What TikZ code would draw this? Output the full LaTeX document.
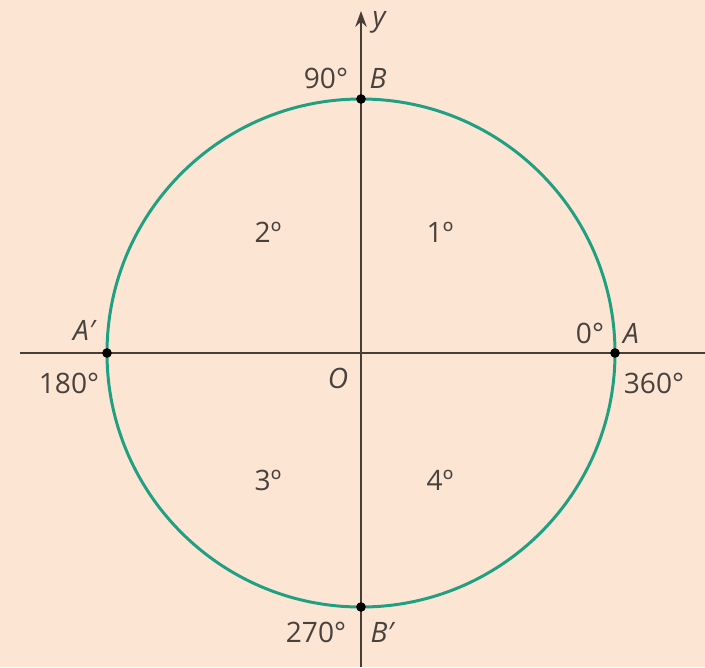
\documentclass[tikz,border=0pt]{standalone}
\usepackage{fontspec}
\setmainfont{Open Sans}
\usepackage{xcolor}
\usetikzlibrary{arrows.meta}
\definecolor{paperbg}{RGB}{253, 229, 211}
\definecolor{circleline}{RGB}{32, 160, 130}
\definecolor{axisline}{RGB}{72, 62, 56}
\definecolor{labeltext}{RGB}{72, 66, 62}

\tikzset{
    lbl/.style={text=labeltext, font=\fontsize{16}{18}\selectfont, inner sep=0pt},
    pt/.style={circle, fill=black, inner sep=0pt, minimum size=5.5pt}
}

\begin{document}
\begin{tikzpicture}[x=0.02cm, y=0.02cm]
    % background and size
    \fill[paperbg] (-361,-314) rectangle (344,353);
    \useasboundingbox (-361,-314) rectangle (344,353);

    % axes
    \coordinate (xl) at (-341,0);
    \coordinate (xr) at (344,0);
    \coordinate (yb) at (0,-314);
    \coordinate (yt) at (0,342);
    \draw[line width=1.3pt, axisline] (xl) -- (xr);
    \draw[line width=1.3pt, axisline, ->, >={Stealth[length=9pt, width=6.5pt]}] (yb) -- (yt);

    % circle
    \draw[line width=1.7pt, circleline] (0,0) circle (254);

    % points on the circle
    \node[pt] (A) at (254,0) {};
    \node[pt] (Ap) at (-254,0) {};
    \node[pt] (B) at (0,254) {};
    \node[pt] (Bp) at (0,-254) {};

    % labels
    \node[lbl] (ylab) at (18,331) {\itshape y};
    \node[lbl] (deg90) at (-35,275) {90°};
    \node[lbl] (Blab) at (17,275) {\itshape B};
    \node[lbl] (deg0) at (229,20) {0°};
    \node[lbl] (Alab) at (270,20) {\itshape A};
    \node[lbl] (deg360) at (293,-30) {360°};
    \node[lbl] (Aplab) at (-277,23) {\itshape A′};
    \node[lbl] (deg180) at (-292,-30) {180°};
    \node[lbl] (Olab) at (-23,-25) {\itshape O};
    \node[lbl] (deg270) at (-45,-279) {270°};
    \node[lbl] (Bplab) at (21,-279) {\itshape B′};

    % quadrants
    \node[lbl] (q1) at (79,121) {1º};
    \node[lbl] (q2) at (-93,121) {2º};
    \node[lbl] (q3) at (-93,-127) {3º};
    \node[lbl] (q4) at (79,-127) {4º};
\end{tikzpicture}
\end{document}
